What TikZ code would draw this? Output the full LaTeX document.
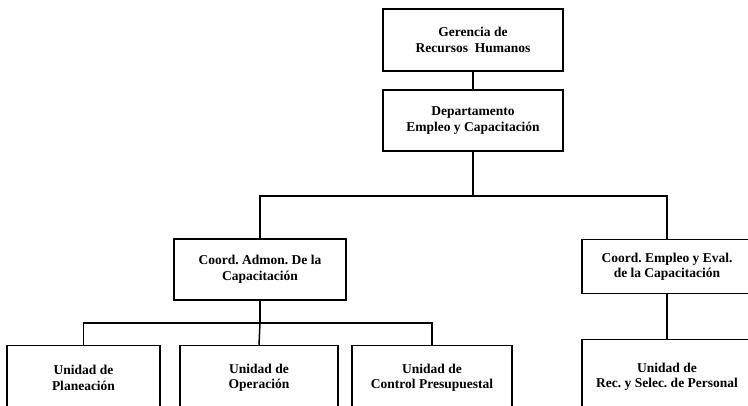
\documentclass[tikz,border=0pt]{standalone}
\usepackage{fontspec}
\setmainfont{Liberation Serif}
\frenchspacing
\begin{document}
\begin{tikzpicture}[x=1pt,y=-1pt,
  box/.style={draw=black, line width=1.5pt, fill=white, align=center, inner sep=0pt,
    font=\bfseries\fontsize{13.5}{15.5}\selectfont},
  conn/.style={draw=black, line width=1.5pt}]
\useasboundingbox (0,0) rectangle (748,406);
\clip (0,0) rectangle (748,406);
% top levels
\node[box, minimum width=180, minimum height=62] (ger) at (473,40) {Gerencia de\\Recursos \ Humanos};
\node[box, minimum width=180, minimum height=61] (dep) at (473,120.5) {Departamento\\Empleo y Capacitación};
% coordinations
\node[box, minimum width=172, minimum height=61] (cl) at (260,269.5) {Coord. Admon. De la\\Capacitación};
\node[box, minimum width=170, minimum height=54, anchor=north] (cr) at (667,239) {Coord. Empleo y Eval.\\de la Capacitación};
% units
\node[box, minimum width=153, minimum height=64, anchor=north] (u1) at (83.5,345) {Unidad de\\Planeación};
\node[box, minimum width=158, minimum height=64, anchor=north] (u2) at (259,345) {Unidad de\\Operación};
\node[box, minimum width=160, minimum height=64, anchor=north] (u3) at (432,345) {Unidad de\\Control Presupuestal};
\node[box, minimum width=170, minimum height=74, anchor=north] (ur) at (667,339) {Unidad de\\Rec. y Selec. de Personal};
% junctions
\coordinate (j1) at (473,196);
\coordinate (j2) at (260,323);
% connectors
\draw[conn] (ger.south) -- (dep.north);
\draw[conn] (dep.south) -- (j1);
\draw[conn] (cl.north) |- (j1) -| (cr.north);
\draw[conn] (cl.south) -- (j2);
\draw[conn] (u1.north) |- (j2) -| (u3.north);
\draw[conn] (j2) -- (u2.north);
\draw[conn] (cr.south) -- (ur.north);
\end{tikzpicture}
\end{document}
